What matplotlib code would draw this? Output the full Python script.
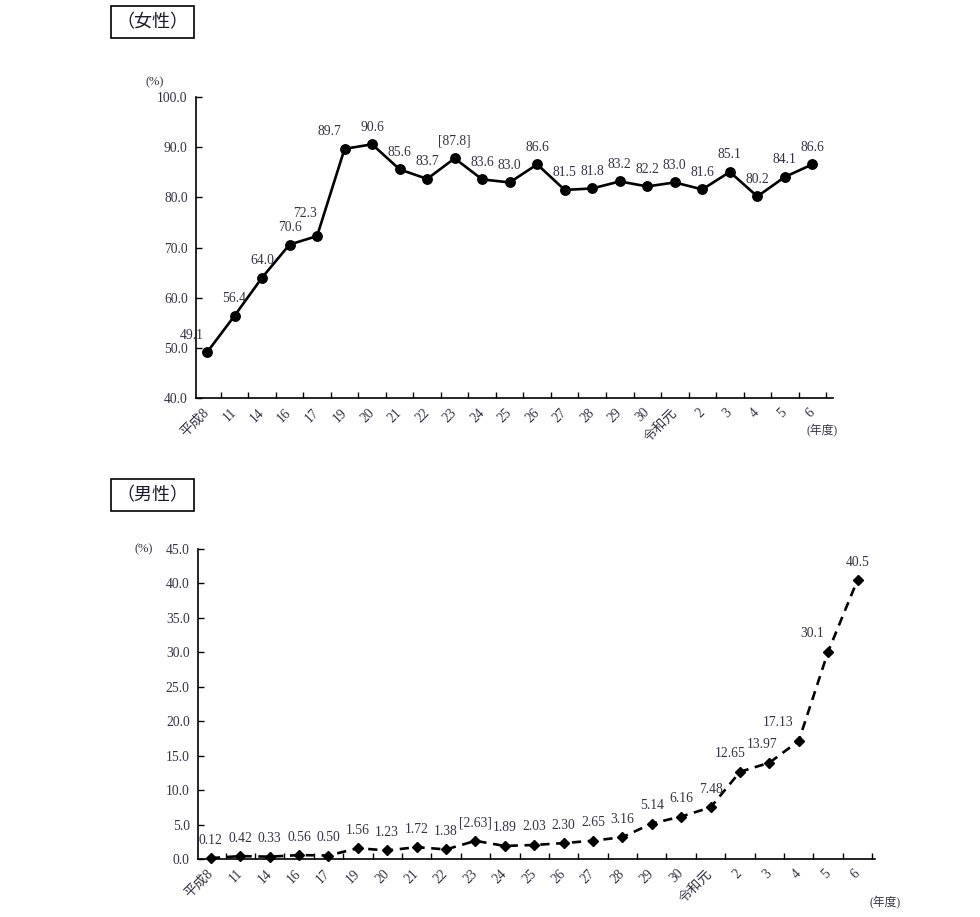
import matplotlib
matplotlib.use('Agg')
import matplotlib.pyplot as plt
from matplotlib.patches import Rectangle

plt.rcParams['font.family'] = ['Liberation Serif', 'Noto Sans CJK JP', 'DejaVu Sans']

# 年度
years = ['平成8', '11', '14', '16', '17', '19', '20', '21', '22', '23', '24', '25',
         '26', '27', '28', '29', '30', '令和元', '2', '3', '4', '5', '6']

# 女性
women = [49.1, 56.4, 64.0, 70.6, 72.3, 89.7, 90.6, 85.6, 83.7, 87.8, 83.6, 83.0,
         86.6, 81.5, 81.8, 83.2, 82.2, 83.0, 81.6, 85.1, 80.2, 84.1, 86.6]
women_labels = ['49.1', '56.4', '64.0', '70.6', '72.3', '89.7', '90.6', '85.6', '83.7',
                '[87.8]', '83.6', '83.0', '86.6', '81.5', '81.8', '83.2', '82.2', '83.0',
                '81.6', '85.1', '80.2', '84.1', '86.6']

# 男性
men = [0.12, 0.42, 0.33, 0.56, 0.50, 1.56, 1.23, 1.72, 1.38, 2.63, 1.89, 2.03,
       2.30, 2.65, 3.16, 5.14, 6.16, 7.48, 12.65, 13.97, 17.13, 30.1, 40.5]
men_labels = ['0.12', '0.42', '0.33', '0.56', '0.50', '1.56', '1.23', '1.72', '1.38',
              '[2.63]', '1.89', '2.03', '2.30', '2.65', '3.16', '5.14', '6.16', '7.48',
              '12.65', '13.97', '17.13', '30.1', '40.5']

txt_color = '#333344'
fs = 9.8

fig = plt.figure(figsize=(9.8, 9.17), dpi=100)


def style_axes(ax, ylim, step, fmt, xlim):
    x = list(range(len(years)))
    ax.set_xlim(*xlim)
    ax.set_ylim(*ylim)
    ax.set_yticks([ylim[0] + step * i for i in range(int(round((ylim[1] - ylim[0]) / step)) + 1)])
    ax.set_yticklabels([fmt.format(v) for v in ax.get_yticks()], fontsize=fs, color=txt_color)
    ax.set_xticks([i + 0.5 for i in range(len(years))])
    ax.set_xticklabels([])
    ax.set_xticks(x, minor=True)
    ax.set_xticklabels(years, minor=True, rotation=45, ha='right', va='center',
                       rotation_mode='anchor', fontsize=fs, color=txt_color)
    ax.tick_params(axis='x', which='major', direction='in', length=4, width=1)
    ax.tick_params(axis='x', which='minor', length=0, pad=9)
    ax.tick_params(axis='y', direction='in', length=4, width=1, pad=6)
    for s in ['top', 'right']:
        ax.spines[s].set_visible(False)
    for s in ['left', 'bottom']:
        ax.spines[s].set_linewidth(1.2)
    return x


# 上段: 女性
ax1 = fig.add_axes([0.2, 0.566, 0.65, 0.328])
x = style_axes(ax1, (40, 100), 10, '{:.1f}', (-0.4, 22.75))
ax1.plot(x, women, color='black', lw=1.9, marker='o', markersize=6.8, clip_on=False)
women_off = {0: (-15, 17), 4: (-12, 23), 5: (-15, 17)}
for i, (v, lab) in enumerate(zip(women, women_labels)):
    ax1.annotate(lab, (i, v), xytext=women_off.get(i, (0, 17)), textcoords='offset pixels',
                 ha='center', va='center', fontsize=fs, color=txt_color)
ax1.text(-0.065, 1.03, '(%)', transform=ax1.transAxes, fontsize=9, color=txt_color,
         ha='center', va='bottom')
ax1.text(0.983, -0.11, '(年度)', transform=ax1.transAxes, fontsize=8.5, color=txt_color,
         ha='center', va='center')

# 下段: 男性
ax2 = fig.add_axes([0.202, 0.0633, 0.691, 0.338])
x = style_axes(ax2, (0, 45), 5, '{:.1f}', (-0.44, 22.6))
ax2.plot(x, men, color='black', lw=1.9, ls=(0, (3.5, 2.5)), marker='D', markersize=5.2,
         clip_on=False)
men_dx = {18: -10, 19: -7, 20: -21, 21: -16}
for i, (v, lab) in enumerate(zip(men, men_labels)):
    ax2.annotate(lab, (i, v), xytext=(men_dx.get(i, 0), 18), textcoords='offset pixels',
                 ha='center', va='center', fontsize=fs, color=txt_color)
ax2.text(-0.08, 1.0, '(%)', transform=ax2.transAxes, fontsize=9, color=txt_color,
         ha='center', va='center')
ax2.text(1.015, -0.142, '(年度)', transform=ax2.transAxes, fontsize=8.5, color=txt_color,
         ha='center', va='center')

# 見出しの枠
for (y0, label) in [(1 - 38 / 917, '（女性）'), (1 - 511 / 917, '（男性）')]:
    fig.add_artist(Rectangle((111 / 980, y0), 83 / 980, 32 / 917, transform=fig.transFigure,
                             fill=False, edgecolor='black', lw=1.2))
    fig.text(152.5 / 980, y0 + 16 / 917, label, fontsize=13, ha='center', va='center',
             family=['Noto Sans CJK JP'], color='#1a1a2a')

fig.savefig('out.png', dpi=100)
